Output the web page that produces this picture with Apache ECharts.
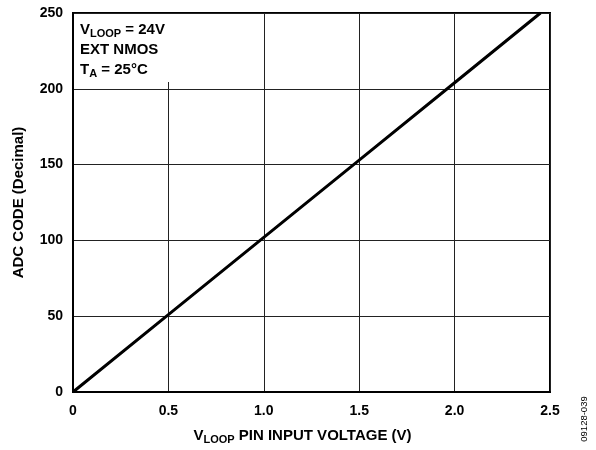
<!DOCTYPE html>
<html>
<head>
<meta charset="utf-8">
<script src="https://cdn.jsdelivr.net/npm/echarts@6/dist/echarts.min.js"></script>
<style>
  html, body { margin: 0; padding: 0; background: #fff; }
  #chart { width: 596px; height: 450px; }
</style>
</head>
<body>
<div id="chart"></div>
<script>
// values
const voltage = [0, 0.5, 1.0, 1.5, 2.0, 2.45];
const adcCode = [0, 51, 102, 153, 204, 250];
const xTicks = ['0', '0.5', '1.0', '1.5', '2.0', '2.5'];

const chart = echarts.init(document.getElementById('chart'));
const font = 'Liberation Sans, Arial, sans-serif';

const option = {
  backgroundColor: '#fff',
  animation: false,
  grid: {
    left: 73, right: 46, top: 13, bottom: 57,
    show: true, borderColor: '#000', borderWidth: 2
  },
  xAxis: {
    type: 'value',
    min: 0, max: 2.5, interval: 0.5,
    name: '{v|V}{s|LOOP}{v| PIN INPUT VOLTAGE (V)}',
    nameLocation: 'middle',
    nameGap: 35,
    nameTextStyle: {
      padding: [0, 18, 0, 0],
      rich: {
        v: { fontFamily: font, fontWeight: 'bold', fontSize: 15, color: '#000' },
        s: { fontFamily: font, fontWeight: 'bold', fontSize: 11, color: '#000', verticalAlign: 'bottom', padding: [7, 0, 0, 0] }
      }
    },
    axisLine: { show: true, lineStyle: { color: '#000', width: 2 } },
    axisTick: { show: false },
    axisLabel: {
      margin: 12, color: '#000', fontFamily: font, fontWeight: 'bold', fontSize: 14,
      formatter: v => xTicks[Math.round(v / 0.5)]
    },
    splitLine: { show: true, lineStyle: { color: '#222', width: 1 } }
  },
  yAxis: {
    type: 'value',
    min: 0, max: 250, interval: 50,
    name: 'ADC CODE (Decimal)',
    nameLocation: 'middle',
    nameGap: 47,
    nameTextStyle: { fontFamily: font, fontWeight: 'bold', fontSize: 15, color: '#000' },
    axisLine: { show: true, lineStyle: { color: '#000', width: 2 } },
    axisTick: { show: false },
    axisLabel: { margin: 10, color: '#000', fontFamily: font, fontWeight: 'bold', fontSize: 14 },
    splitLine: { show: true, lineStyle: { color: '#222', width: 1 } }
  },
  series: [{
    type: 'line',
    data: voltage.map((v, i) => [v, adcCode[i]]),
    symbol: 'none',
    lineStyle: { color: '#000', width: 3 },
    z: 3
  }],
  graphic: [
    {
      type: 'rect',
      shape: { x: 75, y: 14, width: 112, height: 68 },
      style: { fill: '#fff' },
      z: 10
    },
    {
      type: 'text',
      left: 80, top: 20,
      z: 11,
      style: {
        text: '{v|V}{s|LOOP}{v| = 24V}\n{v|EXT NMOS}\n{v|T}{s|A}{v| = 25°C}',
        rich: {
          v: { fontFamily: font, fontWeight: 'bold', fontSize: 15, fill: '#000', lineHeight: 20 },
          s: { fontFamily: font, fontWeight: 'bold', fontSize: 11, fill: '#000', lineHeight: 20, padding: [8, 0, 0, 0] }
        }
      }
    },
    {
      type: 'text',
      x: 584, y: 419,
      rotation: Math.PI / 2,
      style: {
        text: '09128-039',
        fontFamily: font, fontSize: 9.5, fill: '#000',
        align: 'center', verticalAlign: 'middle'
      }
    }
  ]
};

chart.setOption(option);
</script>
</body>
</html>
